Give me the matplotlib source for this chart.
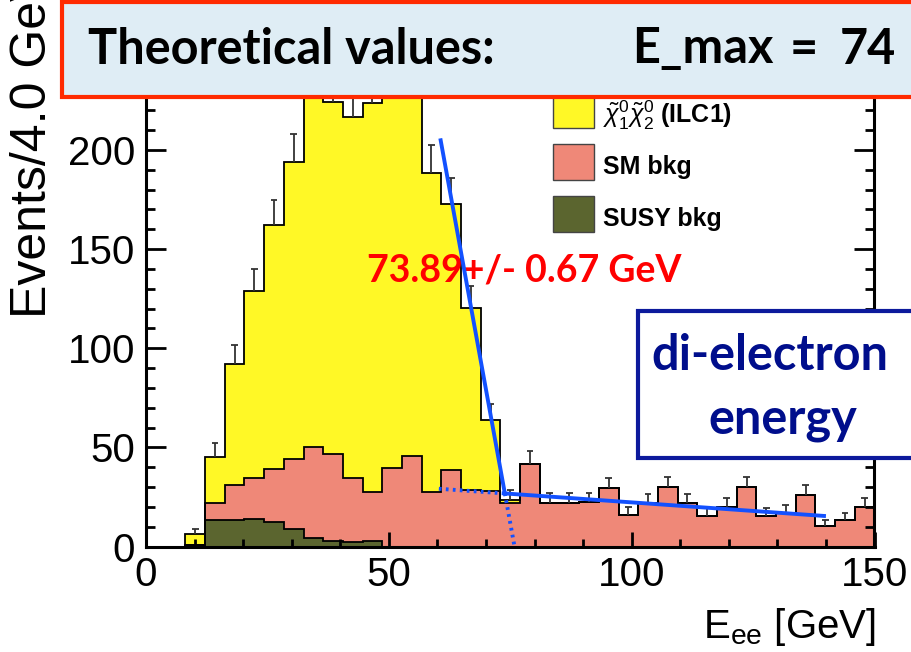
import numpy as np
import matplotlib
matplotlib.use("Agg")
import matplotlib.pyplot as plt
from matplotlib.patches import Rectangle
from matplotlib.ticker import MultipleLocator

plt.rcParams['font.family'] = ['Liberation Sans', 'DejaVu Sans']
plt.rcParams['mathtext.fontset'] = 'custom'
plt.rcParams['mathtext.rm'] = 'Liberation Sans'
plt.rcParams['mathtext.it'] = 'Liberation Sans:italic'
plt.rcParams['mathtext.bf'] = 'Liberation Sans:bold'

# ---- histogram contents: 37 bins over 0-150 GeV ----
e_min, e_max, n_bins = 0.0, 150.0, 37

susy_bkg = [0, 0, 1.0, 13.5, 13.5, 14.2, 12.2, 9.0, 4.3, 2.8, 2.2, 2.9,
            0, 0, 0, 0, 0, 0, 0, 0, 0, 0, 0, 0, 0, 0, 0, 0, 0, 0,
            0, 0, 0, 0, 0, 0, 0]
sm_bkg = [0, 0, 0, 8.4, 17.5, 20.6, 26.8, 35.0, 46.1, 43.8, 32.6, 24.8,
          39.8, 45.7, 27.7, 38.7, 28.5, 28.0, 22.2, 41.7, 22.2, 22.2, 22.5,
          29.4, 16.0, 21.9, 29.9, 21.9, 15.5, 20.2, 29.9, 15.5, 16.8, 26.1,
          10.4, 13.5, 19.9]
signal = [0, 0, 5.5, 23.5, 61.0, 94.0, 123.0, 150.0, 187.6, 177.4, 181.7,
          195.8, 201.2, 190.3, 160.8, 134.0, 91.7, 35.9, 1.3,
          0, 0, 0, 0, 0, 0, 0, 0, 0, 0, 0, 0, 0, 0, 0, 0, 0, 0]

# ---- edge fit: falling signal edge + linear background ----
fit_endpoint = 73.89          # GeV, fitted edge position
fit_endpoint_err = 0.67
edge_start = (60.6, 205.8)    # upper end of the fitted edge line
bkg_line_x = [60.3, 139.6]
bkg_line_y = [29.2, 15.5]

legend_labels = [r'$\tilde{\chi}^{0}_{1}\tilde{\chi}^{0}_{2}$ (ILC1)', 'SM bkg', 'SUSY bkg']

C_SIG = '#FFF826'
C_SM = '#EF8878'
C_SUSY = '#5B652F'
C_FIT = '#1351FF'

W, H = 912, 652


def fx(x):
    return x / W


def fy(y):
    return 1 - y / H


fig = plt.figure(figsize=(W / 100, H / 100), dpi=100)
ax = fig.add_axes([fx(146), fy(546.7), fx(874.5) - fx(146), fy(60.6) - fy(546.7)])

edges = np.linspace(e_min, e_max, n_bins + 1)
susy = np.array(susy_bkg)
sm = np.array(sm_bkg)
sig = np.array(signal)
lvl1 = susy
lvl2 = susy + sm
lvl3 = susy + sm + sig

ax.stairs(lvl1, edges, baseline=0, fill=True, color=C_SUSY, zorder=1)
ax.stairs(lvl2, edges, baseline=lvl1, fill=True, color=C_SM, zorder=1)
ax.stairs(lvl3, edges, baseline=lvl2, fill=True, color=C_SIG, zorder=1)
for lv in (lvl1, lvl2, lvl3):
    ax.stairs(lv, edges, baseline=0, color='black', lw=1.3, zorder=2)

# Poisson error bars, upper half
centers = 0.5 * (edges[:-1] + edges[1:])
has = lvl3 > 0
err = np.sqrt(lvl3[has])
ax.vlines(centers[has], lvl3[has], lvl3[has] + err, color='#333333', lw=1.3, zorder=3)
ax.hlines(lvl3[has] + err, centers[has] - 0.7, centers[has] + 0.7, color='#333333', lw=1.3, zorder=3)

# fit lines
bkg_at_end = np.interp(fit_endpoint, bkg_line_x, bkg_line_y)
slope = (bkg_at_end - edge_start[1]) / (fit_endpoint - edge_start[0])
zero_x = fit_endpoint - bkg_at_end / slope
dots = (0, (0.7, 1.1))
ax.plot([edge_start[0], fit_endpoint], [edge_start[1], bkg_at_end], color=C_FIT, lw=2.8,
        solid_capstyle='butt', zorder=5)
ax.plot([fit_endpoint, zero_x], [bkg_at_end, 0], color=C_FIT, lw=2.8, ls=dots,
        zorder=5, clip_on=False)
ax.plot([fit_endpoint, bkg_line_x[1]], [bkg_at_end, bkg_line_y[1]], color=C_FIT, lw=2.8, zorder=5)
ax.plot([bkg_line_x[0], fit_endpoint], [bkg_line_y[0], bkg_at_end], color=C_FIT, lw=2.8,
        ls=dots, zorder=5)

ax.text(45.6, 139, f'{fit_endpoint:.2f}+/- {fit_endpoint_err:.2f} GeV',
        color='#FF0000', fontsize=27, fontweight='bold', family=['Lato', 'DejaVu Sans'],
        va='center', ha='left', zorder=4)

ax.set_xlim(e_min, e_max)
ax.set_ylim(0, 245)
ax.xaxis.set_major_locator(MultipleLocator(50))
ax.xaxis.set_minor_locator(MultipleLocator(10))
ax.yaxis.set_major_locator(MultipleLocator(50))
ax.yaxis.set_minor_locator(MultipleLocator(10))
ax.tick_params(which='both', direction='in', top=True, right=True, width=2.0, labelsize=29)
ax.tick_params(axis='y', which='major', length=14.5, pad=8)
ax.tick_params(axis='y', which='minor', length=6.7)
ax.tick_params(axis='x', which='major', length=11, pad=7)
ax.tick_params(axis='x', which='minor', length=5.5)
for s in ax.spines.values():
    s.set_linewidth(2.2)

fig.text(fx(33), fy(318), 'Events/4.0 GeV', rotation=90, ha='center', va='bottom', fontsize=36)
fig.text(fx(876), fy(638), r'E$_{\mathrm{ee}}$ [GeV]', ha='right', va='baseline', fontsize=29)

# legend
leg_colors = [C_SIG, C_SM, C_SUSY]
for i, (lab, col) in enumerate(zip(legend_labels, leg_colors)):
    yb = 110 + i * 52
    fig.add_artist(Rectangle((fx(553), fy(yb + 18)), fx(594) - fx(553), fy(yb - 18) - fy(yb + 18),
                             facecolor=col, edgecolor='#444444', lw=1.0, transform=fig.transFigure,
                             zorder=3))
    fig.text(fx(603), fy(yb + 5), lab, ha='left', va='center', fontsize=18, fontweight='bold', zorder=3)

# title banner
fig.add_artist(Rectangle((fx(62), fy(97)), fx(920) - fx(62), fy(2) - fy(97), facecolor='#DFEDF5',
                         edgecolor='#FF2A00', lw=3, transform=fig.transFigure, zorder=10))
title_kw = dict(ha='left', va='center', fontsize=35, fontweight='bold',
                family=['Lato', 'DejaVu Sans'], zorder=11)
fig.text(fx(88), fy(49), 'Theoretical values:', **title_kw)
fig.text(fx(632), fy(49), 'E_max', **title_kw)
fig.text(fx(790), fy(49), '=', **title_kw)
fig.text(fx(840), fy(49), '74', **title_kw)

# side box
fig.add_artist(Rectangle((fx(638), fy(458)), fx(918) - fx(638), fy(311) - fy(458), facecolor='white',
                         edgecolor='#0C1A9C', lw=3, transform=fig.transFigure, zorder=10))
fig.text(fx(770), fy(355), 'di-electron', ha='center', va='center', fontsize=35, fontweight='bold',
         color='#000E8C', family=['Lato', 'DejaVu Sans'], zorder=11)
fig.text(fx(783), fy(420), 'energy', ha='center', va='center', fontsize=35, fontweight='bold',
         color='#000E8C', family=['Lato', 'DejaVu Sans'], zorder=11)

fig.savefig('out.png', dpi=100)
